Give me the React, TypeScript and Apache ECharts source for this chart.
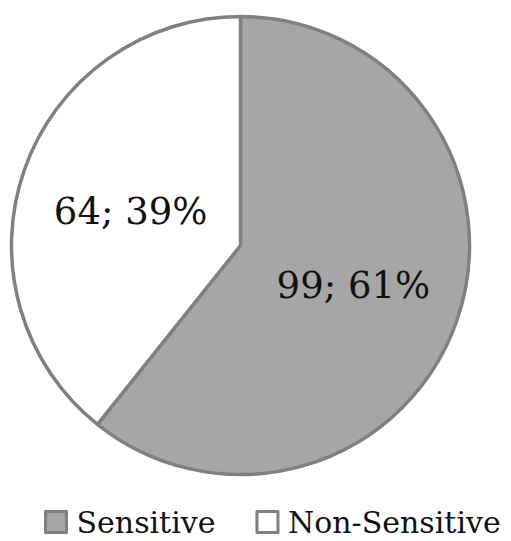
import React, { useEffect, useRef } from "react";
import * as echarts from "echarts";

const categories = ["Sensitive", "Non-Sensitive"];
const values = [99, 64];
const percents = [61, 39];
const colors = ["#a6a6a6", "#ffffff"];
const labelOffsets = [[2, 1], [1, 5]];

export default function App() {
  const ref = useRef<HTMLDivElement>(null);
  useEffect(() => {
    const chart = echarts.init(ref.current!, null, { renderer: "svg" });
    const font = "'DejaVu Serif', serif";
    chart.setOption({
      animation: false,
      backgroundColor: "#ffffff",
      legend: {
        top: 507,
        left: 44,
        padding: 0,
        itemWidth: 21,
        itemHeight: 21,
        itemGap: 40,
        textStyle: { fontFamily: font, fontSize: 30, lineHeight: 30, color: "#111111", padding: [0, 0, 0, 5] },
        data: categories.map((c, i) => ({
          name: c,
          icon: "rect",
          itemStyle: { color: colors[i], borderColor: "#808080", borderWidth: 3 },
        })),
      },
      series: [
        {
          type: "pie",
          center: [240.5, 245.5],
          radius: [0, 229],
          startAngle: 90,
          clockwise: true,
          label: {
            show: true,
            position: "inside",
            fontFamily: font,
            fontSize: 37,
            color: "#111111",
            formatter: (p: any) => `${values[p.dataIndex]}; ${percents[p.dataIndex]}%`,
          },
          labelLine: { show: false },
          emphasis: { disabled: true },
          itemStyle: { borderColor: "#808080", borderWidth: 3.5 },
          data: categories.map((c, i) => ({
            name: c,
            value: values[i],
            itemStyle: { color: colors[i] },
            label: { offset: labelOffsets[i] },
          })),
        },
      ],
    });
    return () => chart.dispose();
  }, []);
  return <div ref={ref} style={{ width: 511, height: 541, position: "absolute", left: 0, top: 0 }} />;
}
